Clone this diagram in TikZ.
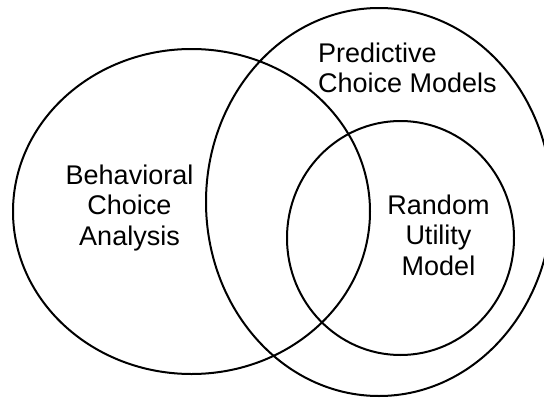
\documentclass[tikz,border=0pt]{standalone}
\usepackage{fontspec}
\setmainfont{Liberation Sans}
\usetikzlibrary{shapes.geometric}

\begin{document}
\begin{tikzpicture}
[ x=1pt, y=-1pt
, every node/.style={font=\fontsize{27}{30.5}\selectfont, inner sep=0pt}
, set/.style={draw, ellipse, line width=2pt}
]

\path[use as bounding box] (0,0) rectangle (544,397);
\clip (0,0) rectangle (544,397);

\node[set, minimum width=357pt, minimum height=325pt] (behav) at (191.5,211.5) {};
\node[set, minimum width=346pt, minimum height=388pt] (pred)  at (379,202)     {};
\node[set, minimum width=227pt, minimum height=234pt] (rum)   at (400.5,238)   {};

\node[align=center] (behavtxt) at (129.5,208) {Behavioral\\Choice\\Analysis};
\node[align=left, anchor=west] (predtxt) at (318,68) {Predictive\\Choice Models};
\node[align=center] (rumtxt) at (438.5,235) {Random\\Utility\\Model};

\end{tikzpicture}
\end{document}
